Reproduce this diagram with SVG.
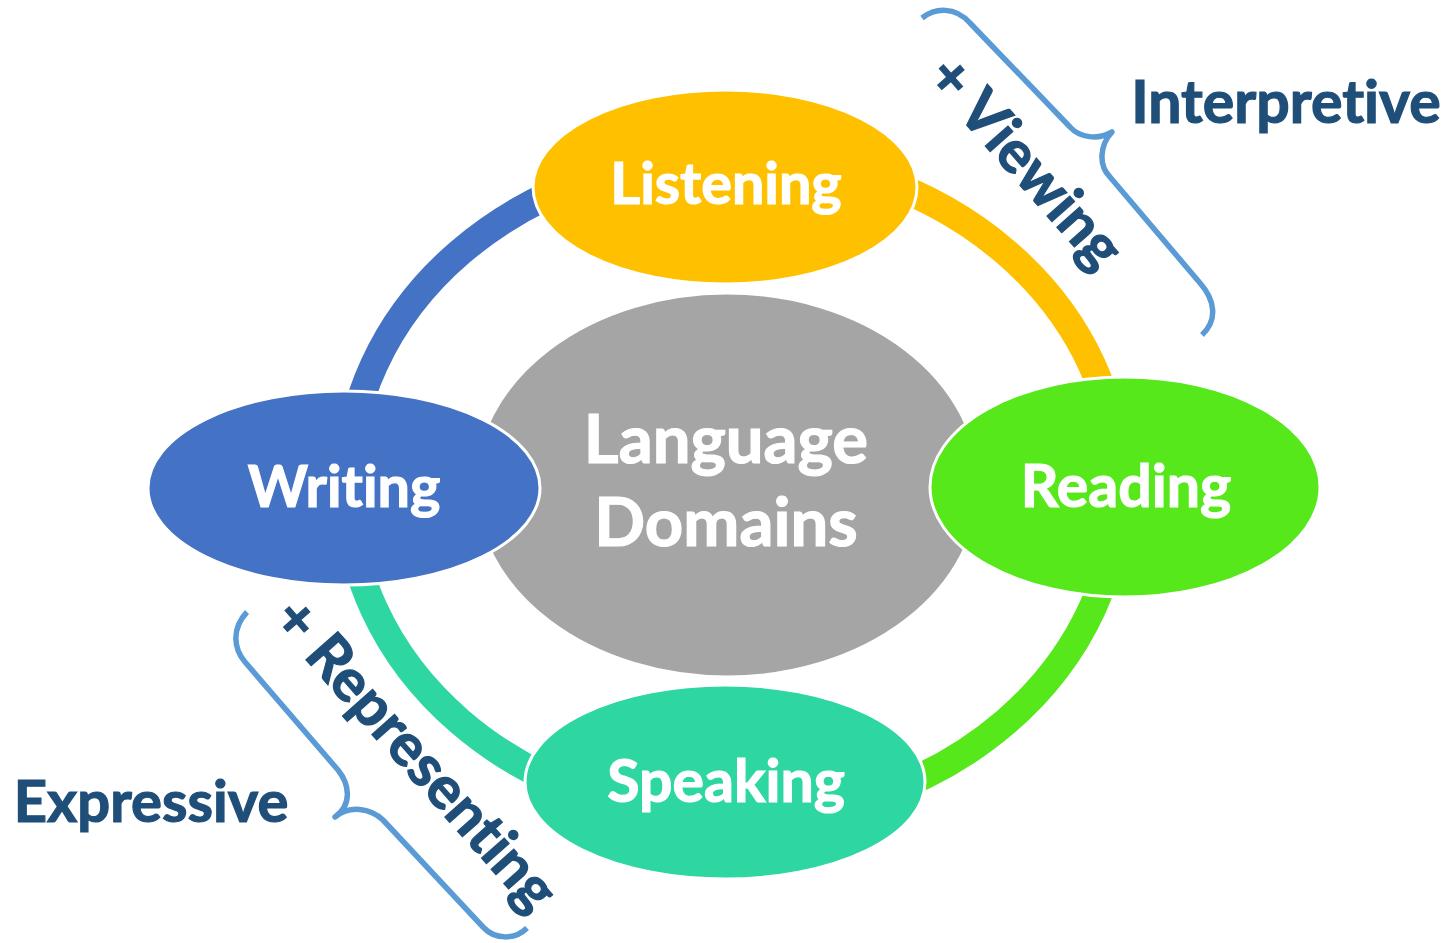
<svg xmlns="http://www.w3.org/2000/svg" width="1454" height="943" viewBox="0 0 1454 943">
<style>
.node{stroke:#fff;stroke-width:3}
.lbl{font-family:Lato,"Open Sans","Liberation Sans",sans-serif;font-weight:700;fill:#fff;stroke:#fff;stroke-width:1.2;text-anchor:middle;font-variant-ligatures:none;font-feature-settings:"liga" 0,"dlig" 0,"clig" 0}
.side{font-family:Lato,"Open Sans","Liberation Sans",sans-serif;font-weight:700;fill:#1F4E79;stroke:#1F4E79;stroke-width:1.2;text-anchor:middle;font-variant-ligatures:none;font-feature-settings:"liga" 0,"dlig" 0,"clig" 0}
.ring{fill:none;stroke-width:28}
.brace{fill:none;stroke:#5B9BD5;stroke-width:5.5;stroke-linecap:butt;stroke-linejoin:round}
</style>
<rect width="1454" height="943" fill="#fff"/>
<g id="connectors">
<path class="ring" stroke="#4472C4" d="M347,487 A386,332 0 0 1 733,155"/>
<path class="ring" stroke="#FFC000" d="M733,155 A386,332 0 0 1 1119,487"/>
<path class="ring" stroke="#56E81B" d="M1119,487 A386,332 0 0 1 733,819"/>
<path class="ring" stroke="#2ED6A2" d="M733,819 A386,332 0 0 1 347,487"/>
</g>
<g id="center">
<ellipse class="node" cx="727" cy="485" rx="252" ry="192" fill="#A5A5A5"/>
<text class="lbl" x="726" y="463" font-size="67">Language</text>
<text class="lbl" x="726" y="546" font-size="67">Domains</text>
</g>
<g id="listening">
<ellipse class="node" cx="725" cy="187" rx="192" ry="97" fill="#FFC000"/>
<text class="lbl" x="726" y="204" font-size="57.5">Listening</text>
</g>
<g id="reading">
<ellipse class="node" cx="1125" cy="487" rx="195" ry="110" fill="#56E81B"/>
<text class="lbl" x="1126" y="507" font-size="59">Reading</text>
</g>
<g id="writing">
<ellipse class="node" cx="344" cy="488" rx="196" ry="97" fill="#4472C4"/>
<text class="lbl" x="344" y="507" font-size="57.5">Writing</text>
</g>
<g id="speaking">
<ellipse class="node" cx="725" cy="782" rx="200" ry="97" fill="#2ED6A2"/>
<text class="lbl" x="726" y="802" font-size="59">Speaking</text>
</g>
<g id="interpretive">
<path class="brace" d="M922,18 C935,8 955,6 970,23 L1070,127 C1080,138 1098,140 1112,132 C1100,145 1098,165 1110,177 L1200,283 C1215,300 1218,320 1202,335"/>
<text class="side" transform="translate(1026,162) rotate(48.5)" x="0" y="20" font-size="59">+ Viewing</text>
<text class="side" x="1286" y="123" font-size="59">Interpretive</text>
</g>
<g id="expressive">
<path class="brace" d="M247,612 C232,628 233,648 245,662 L338,770 C350,785 352,805 335,817 C350,805 370,808 383,820 L483,927 C495,940 515,940 527,928"/>
<text class="side" transform="translate(416,754) rotate(48.5)" x="0" y="20" font-size="59">+ Representing</text>
<text class="side" x="151" y="822" font-size="58">Expressive</text>
</g>
</svg>
